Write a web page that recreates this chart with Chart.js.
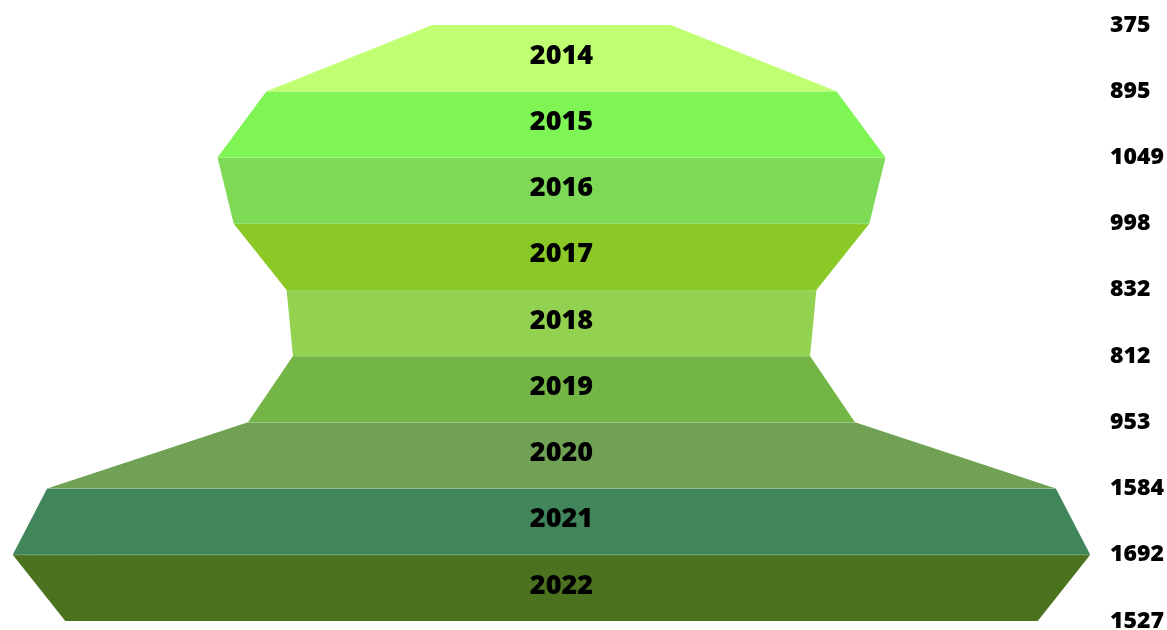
<!DOCTYPE html>
<html>
<head>
<meta charset="utf-8">
<script src="https://cdn.jsdelivr.net/npm/chart.js@4"></script>
<style>
    html, body { margin: 0; padding: 0; background: #ffffff; }
    #wrap { position: relative; width: 1167px; height: 630px; }
</style>
</head>
<body>
<div id="wrap"><canvas id="funnel"></canvas></div>
<script>
// one label per band, one level per band edge (top of 2014 .. bottom of 2022)
const years = ['2014', '2015', '2016', '2017', '2018', '2019', '2020', '2021', '2022'];
const levels = [375, 895, 1049, 998, 832, 812, 953, 1584, 1692, 1527];
const bandColors = ['#c1ff72', '#7ef554', '#7ed957', '#8bc926', '#93d151', '#74b646', '#70a155', '#41865b', '#4b721f'];

const HALF_RANGE = 866;

// each band is a closed trapezoid: top edge at level i, bottom edge at level i + 1
const datasets = years.map((year, i) => {
    const top = levels[i] / 2;
    const bottom = levels[i + 1] / 2;
    return {
        label: year,
        data: [
            { x: -top, y: i },
            { x: top, y: i },
            { x: bottom, y: i + 1 },
            { x: -bottom, y: i + 1 },
            { x: -top, y: i },
        ],
        fill: 'shape',
        backgroundColor: bandColors[i],
        borderWidth: 1,
        // only the top edge gets the light seam line
        segment: {
            borderColor: ctx => (ctx.p0DataIndex === 0 && i > 0) ? 'rgba(255,255,255,0.3)' : 'rgba(0,0,0,0)',
        },
        pointRadius: 0,
        tension: 0,
    };
});

// year text in the middle of each band, nudged a little right of the axis
const bandLabels = {
    id: 'bandLabels',
    afterDatasetsDraw(chart) {
        const { ctx, scales: { x, y } } = chart;
        ctx.save();
        ctx.font = '800 27px "Open Sans"';
        ctx.fillStyle = '#000000';
        ctx.textAlign = 'center';
        ctx.textBaseline = 'middle';
        years.forEach((year, i) => {
            ctx.fillText(year, x.getPixelForValue(0) + 10, y.getPixelForValue(i + 0.5) - 2);
        });
        ctx.restore();
    },
};

new Chart(document.getElementById('funnel'), {
    type: 'line',
    data: { datasets },
    options: {
        responsive: true,
        maintainAspectRatio: false,
        animation: false,
        layout: { padding: { top: 25, bottom: 9, left: 0, right: 0 } },
        plugins: {
            legend: { display: false },
            tooltip: { enabled: false },
        },
        scales: {
            x: {
                type: 'linear',
                min: -HALF_RANGE,
                max: HALF_RANGE,
                display: false,
            },
            y: {
                type: 'linear',
                position: 'right',
                reverse: true,
                min: 0,
                max: levels.length - 1,
                grid: { display: false, drawTicks: false },
                border: { display: false },
                ticks: {
                    stepSize: 1,
                    padding: 7,
                    color: '#000000',
                    font: { family: '"Open Sans"', size: 23, weight: '800' },
                    callback: v => levels[v],
                },
                afterFit(scale) {
                    scale.width = 64;
                    scale.paddingTop = 0;
                    scale.paddingBottom = 0;
                },
            },
        },
    },
    plugins: [bandLabels],
});
</script>
</body>
</html>
